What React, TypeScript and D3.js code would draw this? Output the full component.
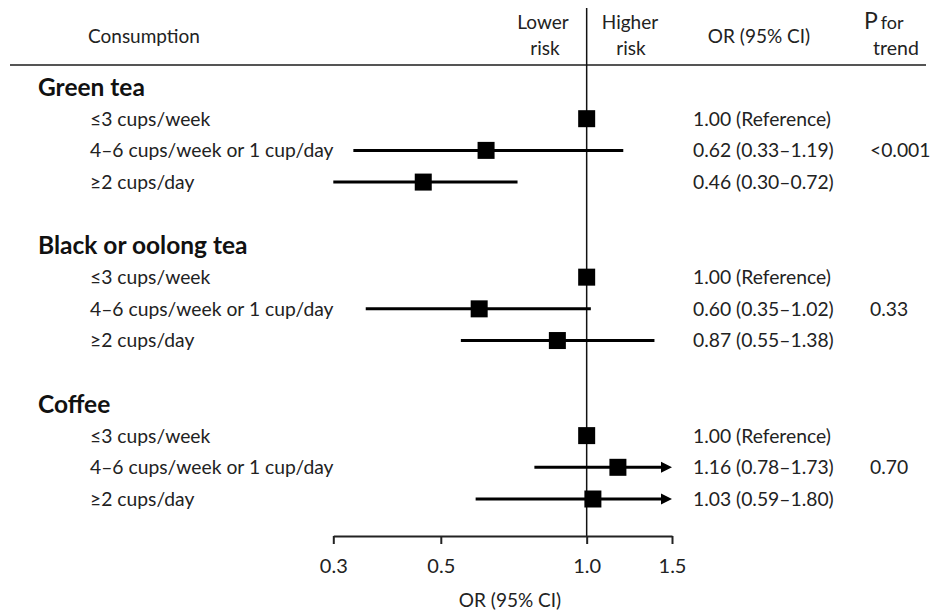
import React from 'react';
import * as d3 from "d3";

const width = 932
    , height = 614

// data
const groups = ["Green tea", "Black or oolong tea", "Coffee"];
const levels = ["≤3 cups/week", "4–6 cups/week or 1 cup/day", "≥2 cups/day"];
const orValues = [[1.00, 0.62, 0.46], [1.00, 0.60, 0.87], [1.00, 1.16, 1.03]];
const lowerCI = [[null, 0.33, 0.30], [null, 0.35, 0.55], [null, 0.78, 0.59]];
const upperCI = [[null, 1.19, 0.72], [null, 1.02, 1.38], [null, 1.73, 1.80]];
const pTrend = ["<0.001", "0.33", "0.70"];
const xTicks = [0.3, 0.5, 1.0, 1.5];

const font = "Lato, 'Open Sans', sans-serif";
const ink = "#222";
const fs = "19.3px";

export default class App extends React.Component {
    myReference = React.createRef<HTMLDivElement>();
    svg: any;

    componentDidMount() {
        d3.select(this.myReference.current).selectAll("*").remove();
        this.svg = d3.select(this.myReference.current)
            .append("svg")
            .attr("width", width)
            .attr("height", height)
            .style("font-family", font);
        this.update();
    }

    update() {
        const svg = this.svg;
        svg.selectAll("*").remove();

        const x = d3.scaleLog().domain([0.3, 1.5]).range([333.3, 672]);
        const y = d3.scaleLinear().domain([0, 13]).range([87, 499]);
        const axisY = 536;
        const fmt = d3.format(".2f");

        // column headers
        const head = svg.append("g").attr("fill", ink).style("font-size", "19px");
        head.append("text").attr("x", 88).attr("y", 43).text("Consumption");
        head.append("text").attr("x", 543).attr("y", 29).attr("text-anchor", "middle").text("Lower");
        head.append("text").attr("x", 545).attr("y", 55).attr("text-anchor", "middle").text("risk");
        head.append("text").attr("x", 630).attr("y", 29).attr("text-anchor", "middle").text("Higher");
        head.append("text").attr("x", 631).attr("y", 55).attr("text-anchor", "middle").text("risk");
        head.append("text").attr("x", 759).attr("y", 43).attr("text-anchor", "middle").text("OR (95% CI)");
        const pf = head.append("text").attr("x", 864).attr("y", 29);
        pf.append("tspan").style("font-size", "23px").text("P");
        pf.append("tspan").attr("dx", 3).style("font-size", "18px").text("for");
        head.append("text").attr("x", 896).attr("y", 55).attr("text-anchor", "middle").style("font-size", "19.5px").text("trend");

        svg.append("line")
            .attr("x1", 10).attr("x2", 926)
            .attr("y1", 65).attr("y2", 65)
            .attr("stroke", "#555").attr("stroke-width", 2);

        // reference line at OR = 1
        svg.append("line")
            .attr("x1", x(1)).attr("x2", x(1))
            .attr("y1", 8).attr("y2", axisY)
            .attr("stroke", "#111").attr("stroke-width", 1.5);

        groups.forEach((g, gi) => {
            const r0 = gi * 5;
            svg.append("text")
                .attr("x", 38).attr("y", y(r0)).attr("dy", "0.36em")
                .attr("fill", "#111")
                .style("font-size", "24.5px").style("font-weight", "bold")
                .text(g);

            levels.forEach((lv, li) => {
                const yy = y(r0 + 1 + li);
                const est = orValues[gi][li];
                const lo = lowerCI[gi][li];
                const hi = upperCI[gi][li];

                svg.append("text")
                    .attr("x", 90).attr("y", yy).attr("dy", "0.36em")
                    .attr("fill", ink).style("font-size", fs)
                    .text(lv);

                svg.append("text")
                    .attr("x", 693).attr("y", yy).attr("dy", "0.36em")
                    .attr("fill", ink).style("font-size", fs)
                    .text(lo == null ? fmt(est) + " (Reference)" : fmt(est) + " (" + fmt(lo) + "–" + fmt(hi) + ")");

                if (lo != null && hi != null) {
                    const maxV = x.domain()[1];
                    const clipped = hi > maxV;
                    const xEnd = x(Math.min(hi, maxV));
                    svg.append("line")
                        .attr("x1", x(lo)).attr("x2", clipped ? xEnd - 6 : xEnd)
                        .attr("y1", yy).attr("y2", yy)
                        .attr("stroke", "#000").attr("stroke-width", 3);
                    if (clipped) {
                        svg.append("path")
                            .attr("d", `M${xEnd},${yy}L${xEnd - 11},${yy - 5.5}L${xEnd - 11},${yy + 5.5}Z`)
                            .attr("fill", "#000");
                    }
                }

                svg.append("rect")
                    .attr("x", x(est) - 8.5).attr("y", yy - 8.5)
                    .attr("width", 17).attr("height", 17)
                    .attr("fill", "#000");
            });

            svg.append("text")
                .attr("x", 870).attr("y", y(r0 + 2)).attr("dy", "0.36em")
                .attr("fill", ink).style("font-size", fs)
                .text(pTrend[gi]);
        });

        // x axis
        const xaxis = d3.axisBottom(x)
            .tickValues(xTicks)
            .tickFormat(d3.format(".1f"))
            .tickSize(8)
            .tickSizeOuter(0)
            .tickPadding(15);

        const ax = svg.append("g")
            .attr("transform", "translate(0," + axisY + ")")
            .call(xaxis);
        ax.select(".domain").attr("stroke", "#222").attr("stroke-width", 2);
        ax.selectAll(".tick line").attr("stroke", "#222").attr("stroke-width", 2);
        ax.selectAll(".tick text")
            .attr("fill", ink)
            .style("font-family", font)
            .style("font-size", "20px");

        svg.append("text")
            .attr("text-anchor", "middle")
            .attr("x", 510).attr("y", 607)
            .attr("fill", ink)
            .style("font-size", "19px")
            .text("OR (95% CI)");
    }

    render() {
        return (
            <div ref={this.myReference} style={{ position: "absolute", left: 0, top: 0 }}>
            </div>
        );
    }
}
